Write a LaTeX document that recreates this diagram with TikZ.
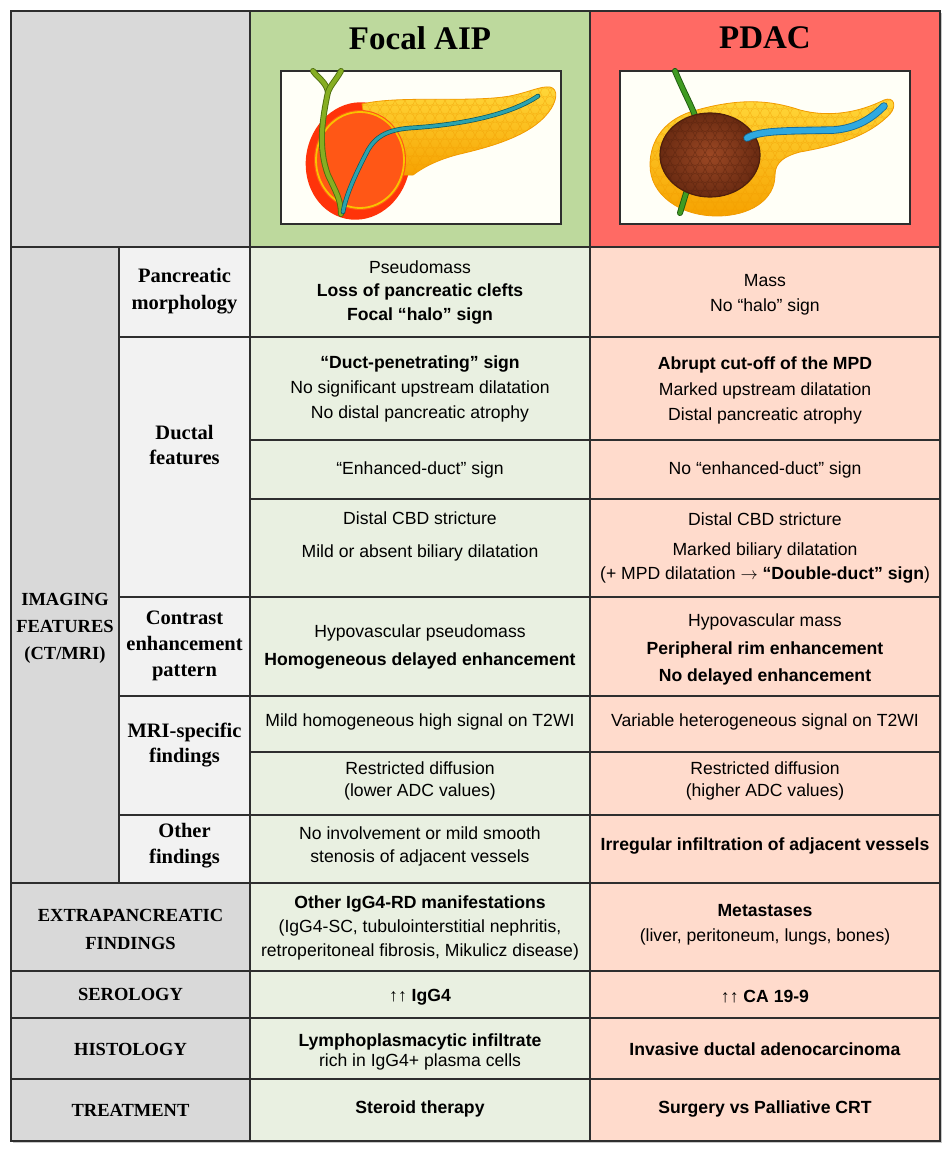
\documentclass[tikz,border=0pt]{standalone}
\usepackage{fontspec}
\setmainfont{Liberation Sans}
\newfontfamily\labelfont{Liberation Serif}
\usepackage{tikz}

\definecolor{headgray}{HTML}{D9D9D9}
\definecolor{labelgray}{HTML}{F2F2F2}
\definecolor{aiphead}{HTML}{BDD99D}
\definecolor{aipcell}{HTML}{E9F0E1}
\definecolor{pdachead}{HTML}{FF6A64}
\definecolor{pdaccell}{HTML}{FFDBCC}
\definecolor{gridline}{HTML}{2E2E2E}
\definecolor{glandtop}{HTML}{FFD83A}
\definecolor{glandbottom}{HTML}{F6A200}
\definecolor{glandedge}{HTML}{F29B00}
\definecolor{halo}{HTML}{FF330A}
\definecolor{headcore}{HTML}{FF5716}
\definecolor{haloring}{HTML}{F9C300}
\definecolor{bile}{HTML}{86AE22}
\definecolor{bileedge}{HTML}{4E6E0E}
\definecolor{duct}{HTML}{2BA3AE}
\definecolor{ductedge}{HTML}{0F5960}
\definecolor{massinner}{HTML}{9C4824}
\definecolor{massouter}{HTML}{6A2B12}
\definecolor{massedge}{HTML}{4E1E0C}
\definecolor{bilepdac}{HTML}{3F9B22}
\definecolor{bilepdacedge}{HTML}{1F5A10}
\definecolor{ductpdac}{HTML}{2FA9E0}
\definecolor{ductpdacedge}{HTML}{156A96}

\begin{document}
\begin{tikzpicture}[x=1pt, y=-1pt,
    grid/.style={draw=gridline, line width=1.6pt},
    celltext/.style={font=\fontsize{17.6}{#1}\selectfont, align=center, inner sep=0pt},
    celltext/.default=24.5,
    rowlabel/.style={font=\labelfont\bfseries\fontsize{20.5}{#1}\selectfont, align=center, inner sep=0pt},
    rowlabel/.default=26,
    caplabel/.style={font=\labelfont\bfseries\fontsize{18.5}{#1}\selectfont, align=center, inner sep=0pt},
    caplabel/.default=27,
    headtitle/.style={font=\labelfont\bfseries\fontsize{33}{36}\selectfont, inner sep=0pt},
    frame/.style={draw=gridline, line width=1.4pt, fill=white!97!yellow},
    lobules/.style n args={3}{path picture={
      \foreach \j [evaluate=\j as \off using {mod(\j,2)*5}] in {0,...,15}
        \foreach \i in {0,...,30}
          \draw[#1, line width=0.6pt, opacity=0.45] (#2+\i*10+\off, #3+\j*8.5) circle [radius=4.6pt];}},
    bileduct/.style={draw=#1, line width=4.2pt, line cap=round,
      preaction={draw=#1edge, line width=6pt, line cap=round}},
    mainduct/.style={draw=#1, line width=3.2pt, line cap=round,
      preaction={draw=#1edge, line width=4.6pt, line cap=round}}
  ]
  \useasboundingbox (0,0) rectangle (951,1153);

  % background fills
  \fill[black!22] (13,13) rectangle (942,1143);
  \fill[headgray] (11,11) rectangle (250,247);
  \fill[aiphead] (250,11) rectangle (590,247);
  \fill[pdachead] (590,11) rectangle (940,247);
  \fill[headgray] (11,247) rectangle (119,883);
  \fill[labelgray] (119,247) rectangle (250,883);
  \fill[headgray] (11,883) rectangle (250,1141);
  \fill[aipcell] (250,247) rectangle (590,1141);
  \fill[pdaccell] (590,247) rectangle (940,1141);

  % grid
  \foreach \y in {247,883,971,1018,1079}
    \draw[grid] (11,\y) -- (940,\y);
  \foreach \y in {337,597,696,815}
    \draw[grid] (119,\y) -- (940,\y);
  \foreach \y in {440,499,752}
    \draw[grid] (250,\y) -- (940,\y);
  \draw[grid] (119,247) -- (119,883);
  \draw[grid] (250,11) -- (250,1141);
  \draw[grid] (590,11) -- (590,1141);
  \draw[grid, line width=2pt] (11,11) rectangle (940,1141);

  % headers
  \node[headtitle] (aip-title) at (420,38) {Focal AIP};
  \node[headtitle] (pdac-title) at (765,38) {PDAC};

  % focal AIP picture
  \draw[frame] (281,71) rectangle (561,224);
  \fill[halo, rotate around={-12:(358,161)}] (358,161) ellipse [x radius=52pt, y radius=59pt];
  \shadedraw[draw=glandedge, line width=0.8pt, top color=glandtop, bottom color=glandbottom,
      lobules={glandedge}{350}{84}]
    (362,104) .. controls (400,95) and (470,103) .. (510,96)
    .. controls (530,92) and (540,86) .. (550,87)
    .. controls (559,89) and (557,102) .. (548,113)
    .. controls (530,136) and (490,147) .. (460,154)
    .. controls (440,159) and (425,166) .. (413,175)
    -- (398,175) -- (368,140) -- cycle;
  \fill[headcore] (360,160) ellipse [x radius=46pt, y radius=50pt];
  \draw[haloring, line width=1.8pt] (360,160) ellipse [x radius=44pt, y radius=48pt];
  \draw[bileduct=bile] (313,71) .. controls (318,78) and (326,82) .. (328,92);
  \draw[bileduct=bile] (341,71) .. controls (336,80) and (330,86) .. (328,92)
    .. controls (322,120) and (318,148) .. (328,175)
    .. controls (336,192) and (341,200) .. (341,214);
  \draw[mainduct=duct] (538,96) .. controls (510,115) and (460,125) .. (410,128)
    .. controls (385,130) and (375,138) .. (368,150)
    .. controls (355,175) and (346,195) .. (343,212);

  % PDAC picture
  \draw[frame] (620,71) rectangle (910,224);
  \shadedraw[draw=glandedge, line width=0.8pt, top color=glandtop, bottom color=glandbottom,
      lobules={glandedge}{645}{96}]
    (697,110) .. controls (740,98) and (770,100) .. (800,110)
    .. controls (830,118) and (860,112) .. (884,100)
    .. controls (894,96) and (897,106) .. (890,114)
    .. controls (870,135) and (840,145) .. (800,152)
    .. controls (785,156) and (775,162) .. (775,175)
    .. controls (775,200) and (750,216) .. (717,216)
    .. controls (680,216) and (650,195) .. (650,165)
    .. controls (650,140) and (665,118) .. (697,110) -- cycle;
  \draw[bileduct=bilepdac] (675,71) .. controls (685,95) and (694,110) .. (697,122);
  \draw[bileduct=bilepdac] (687,190) -- (680,213);
  \shadedraw[draw=massedge, line width=1.2pt, inner color=massinner, outer color=massouter,
      lobules={massedge}{655}{110}]
    (710,155) ellipse [x radius=50pt, y radius=42pt];
  \draw[draw=ductpdacedge, line width=7.5pt, line cap=round]
    (747,138) .. controls (760,130) and (790,131) .. (834,130)
    .. controls (860,128) and (875,115) .. (884,106);
  \draw[draw=ductpdac, line width=5.8pt, line cap=round]
    (747,138) .. controls (760,130) and (790,131) .. (834,130)
    .. controls (860,128) and (875,115) .. (884,106);

  % row labels
  \node[caplabel] (lbl-imaging) at (65,628) {IMAGING\\FEATURES\\(CT/MRI)};
  \node[rowlabel=27] (lbl-morph) at (184.5,291) {Pancreatic\\morphology};
  \node[rowlabel=25] (lbl-duct) at (184.5,445.5) {Ductal\\features};
  \node[rowlabel] (lbl-contrast) at (184.5,646) {Contrast\\enhancement\\pattern};
  \node[rowlabel=25] (lbl-mri) at (184.5,745.5) {MRI-specific\\findings};
  \node[rowlabel] (lbl-other) at (184.5,846) {Other\\findings};
  \node[caplabel=28] (lbl-extra) at (130.5,929) {EXTRAPANCREATIC\\FINDINGS};
  \node[caplabel] (lbl-sero) at (130.5,994) {SEROLOGY};
  \node[caplabel] (lbl-histo) at (130.5,1049) {HISTOLOGY};
  \node[caplabel] (lbl-treat) at (130.5,1110) {TREATMENT};

  % focal AIP column
  \node[celltext=23.5] (aip-morph) at (420,292)
    {Pseudomass\\\textbf{Loss of pancreatic clefts}\\\textbf{Focal “halo” sign}};
  \node[celltext=25] (aip-duct) at (420,389)
    {\textbf{“Duct-penetrating” sign}\\No significant upstream dilatation\\No distal pancreatic atrophy};
  \node[celltext] (aip-enh) at (420,470) {“Enhanced-duct” sign};
  \node[celltext] (aip-cbd) at (420,536.5)
    {Distal CBD stricture\\[8.5pt]Mild or absent biliary dilatation};
  \node[celltext] (aip-contrast) at (420,647)
    {Hypovascular pseudomass\\[3.5pt]\textbf{Homogeneous delayed enhancement}};
  \node[celltext] (aip-t2) at (420,722) {Mild homogeneous high signal on T2WI};
  \node[celltext=22] (aip-dwi) at (420,781) {Restricted diffusion\\(lower ADC values)};
  \node[celltext=23] (aip-other) at (420,846.5)
    {No involvement or mild smooth\\stenosis of adjacent vessels};
  \node[celltext=24] (aip-extra) at (420,928)
    {\textbf{Other IgG4-RD manifestations}\\(IgG4-SC, tubulointerstitial nephritis,\\retroperitoneal fibrosis, Mikulicz disease)};
  \node[celltext] (aip-sero) at (420,997) {↑↑ \textbf{IgG4}};
  \node[celltext=20] (aip-histo) at (420,1052)
    {\textbf{Lymphoplasmacytic infiltrate}\\rich in IgG4+ plasma cells};
  \node[celltext] (aip-treat) at (420,1109) {\textbf{Steroid therapy}};

  % PDAC column
  \node[celltext] (pdac-morph) at (765,295) {Mass\\No “halo” sign};
  \node[celltext=25.5] (pdac-duct) at (765,390.5)
    {\textbf{Abrupt cut-off of the MPD}\\Marked upstream dilatation\\Distal pancreatic atrophy};
  \node[celltext] (pdac-enh) at (765,470) {No “enhanced-duct” sign};
  \node[celltext] (pdac-cbd) at (765,548)
    {Distal CBD stricture\\[5.5pt]Marked biliary dilatation\\(+ MPD dilatation $\rightarrow$ \textbf{“Double-duct” sign})};
  \node[celltext=27.5] (pdac-contrast) at (765,649.5)
    {Hypovascular mass\\\textbf{Peripheral rim enhancement}\\\textbf{No delayed enhancement}};
  \node[celltext] (pdac-t2) at (765,722) {Variable heterogeneous signal on T2WI};
  \node[celltext=22] (pdac-dwi) at (765,781) {Restricted diffusion\\(higher ADC values)};
  \node[celltext] (pdac-other) at (765,846) {\textbf{Irregular infiltration of adjacent vessels}};
  \node[celltext] (pdac-extra) at (765,925) {\textbf{Metastases}\\(liver, peritoneum, lungs, bones)};
  \node[celltext] (pdac-sero) at (765,997) {↑↑ \textbf{CA 19-9}};
  \node[celltext] (pdac-histo) at (765,1049) {\textbf{Invasive ductal adenocarcinoma}};
  \node[celltext] (pdac-treat) at (765,1109) {\textbf{Surgery vs Palliative CRT}};
\end{tikzpicture}
\end{document}
